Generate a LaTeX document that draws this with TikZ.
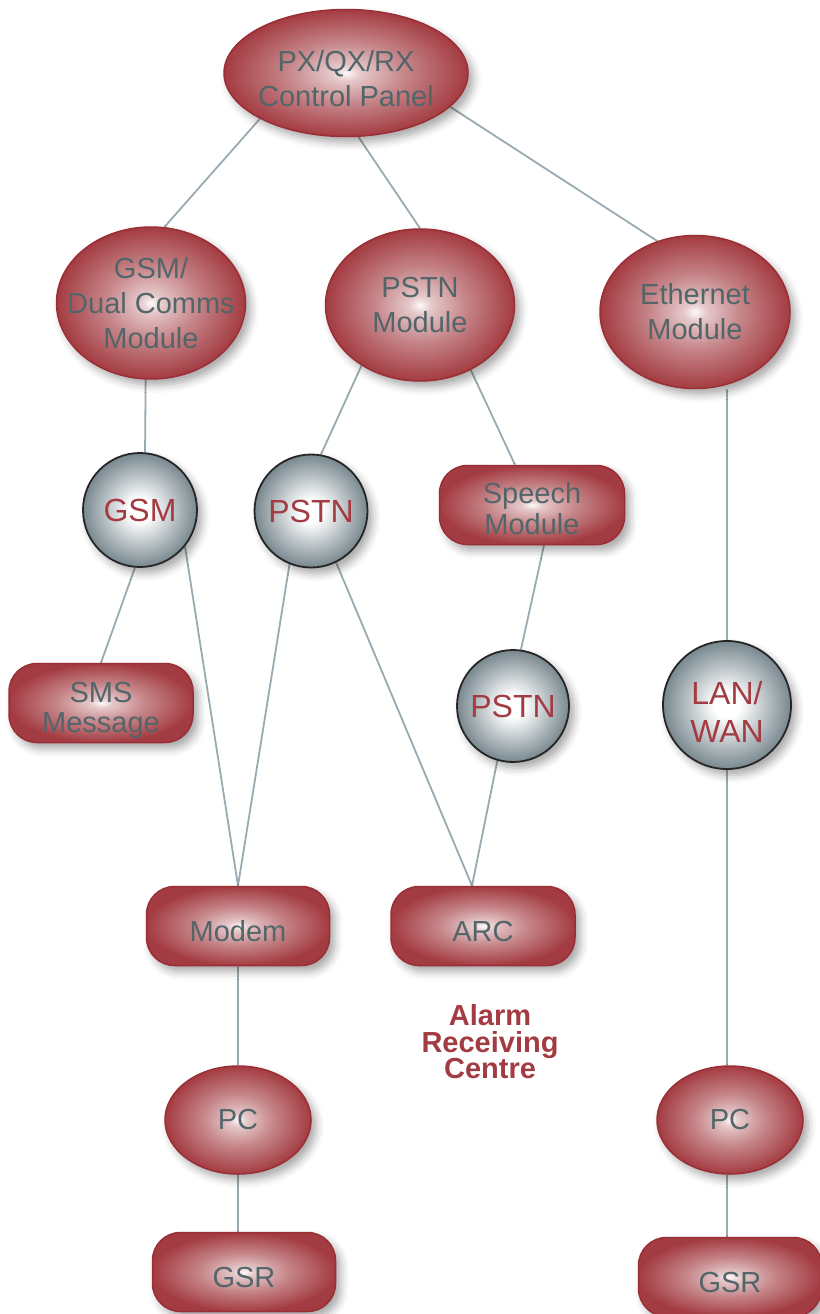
\documentclass[tikz,border=0pt]{standalone}
\usepackage{fontspec}
\setmainfont{Liberation Sans}
\usetikzlibrary{shapes.geometric,calc,backgrounds,shadows.blur}

\definecolor{nodered}{RGB}{163,60,66}
\definecolor{edgered}{RGB}{155,46,53}
\definecolor{ballgrey}{RGB}{120,136,143}
\definecolor{textgrey}{RGB}{82,102,106}
\definecolor{linkgrey}{RGB}{154,170,178}
\colorlet{redcore}{white!97!nodered}
\colorlet{redpink}{nodered!28!white}
\colorlet{redmid}{nodered!62!white}

\pgfdeclareradialshading{redglow}{\pgfpoint{0bp}{0bp}}{color(0bp)=(redcore); color(3bp)=(redpink); color(12bp)=(redmid); color(25bp)=(nodered); color(50bp)=(nodered)}
\pgfdeclareradialshading{greyglow}{\pgfpoint{0bp}{0bp}}{color(0bp)=(white); color(5bp)=(white); color(25bp)=(ballgrey); color(50bp)=(ballgrey)}

\tikzset{
  softshadow/.style={blur shadow={shadow xshift=5pt, shadow yshift=-6pt, shadow blur radius=8pt, shadow opacity=35}},
  txt/.style={font=\fontsize{29}{35}\selectfont, align=center, text=textgrey, inner sep=0pt},
  redell/.style={ellipse, draw=edgered, line width=1.5pt, shading=redglow, inner sep=0pt, softshadow},
  redbox/.style={rectangle, rounded corners=28pt, draw=edgered, line width=1.5pt, shading=redglow,
    minimum width=184, minimum height=79, txt, font=\fontsize{29}{31}\selectfont, softshadow},
  ball/.style={circle, draw=black!85, line width=1.8pt, shading=greyglow, inner sep=0pt,
    txt, text=nodered, font=\fontsize{32}{38}\selectfont, softshadow},
  link/.style={draw=linkgrey, line width=1.8pt},
}

\begin{document}
\begin{tikzpicture}[x=1pt, y=-1pt]
  \useasboundingbox (0,0) rectangle (819,1314);

  % top level
  \node[redell, minimum width=244, minimum height=127] (cp) at (346,73) {};
  \node[txt] (cp-text) at (346,79) {PX/QX/RX\\Control Panel};

  % modules
  \node[redell, minimum width=189, minimum height=152] (gsmdual) at (151,303) {};
  \node[txt] (gsmdual-text) at (gsmdual) {GSM/\\Dual Comms\\Module};
  \node[redell, minimum width=189, minimum height=152] (pstnmod) at (420,305) {};
  \node[txt] (pstnmod-text) at (pstnmod) {PSTN\\Module};
  \node[redell, minimum width=190, minimum height=153] (eth) at (695,312) {};
  \node[txt] (eth-text) at (eth) {Ethernet\\Module};

  % networks
  \node[ball, minimum size=114] (gsm) at (140,510) {GSM};
  \node[ball, minimum size=113] (pstna) at (311,511) {PSTN};
  \node[redbox, minimum width=185, text height=60pt] (speech) at (532,505) {Speech\\Module};
  \node[ball, minimum size=112] (pstnb) at (513,706) {PSTN};
  \node[ball, minimum size=128, text height=75pt] (lan) at (727,705) {LAN/\\WAN};
  \node[redbox, text height=66pt] (sms) at (101,703) {SMS\\Message};

  % receivers
  \node[redbox, minimum width=183, text height=31pt] (modem) at (238,926) {Modem};
  \node[redbox, text height=31pt] (arc) at (483,926) {ARC};
  \node[txt, text=nodered, font=\fontsize{29}{26.5}\selectfont\bfseries] (arc-text) at (490,1042) {Alarm\\Receiving\\Centre};
  \node[redell, minimum width=146, minimum height=108] (pcl) at (238,1120) {};
  \node[txt] (pcl-text) at (pcl) {PC};
  \node[redell, minimum width=146, minimum height=108] (pcr) at (730,1120) {};
  \node[txt] (pcr-text) at (pcr) {PC};
  \node[redbox, minimum width=183, text height=31pt] (gsrl) at (244,1272) {GSR};
  \node[redbox, minimum width=183, text height=31pt] (gsrr) at (730,1277) {GSR};

  \begin{pgfonlayer}{background}
    \path[link]
      (cp.208) -- (gsmdual.80)
      (cp.-79) -- (pstnmod.north)
      (cp.-18) -- (eth.118)
      (gsmdual.-94) -- (gsm.85)
      (pstnmod.226) -- (pstna.80)
      (pstnmod.-52) -- ($(speech.north)+(-17,0)$)
      (eth.south -| lan.north) -- (lan.north)
      (gsm.-95) -- (sms.north)
      (gsm.-39) -- (modem.north)
      (pstna.-112) -- (modem.north)
      (pstna.-64) -- ($(arc.north)+(-11,0)$)
      ($(speech.south)+(12,0)$) -- (pstnb.82)
      (pstnb.-106) -- ($(arc.north)+(-11,0)$)
      (lan.south) -- (lan.south |- pcr.north)
      (modem.south) -- (pcl.north)
      (pcl.south) -- (pcl.south |- gsrl.north)
      ($(pcr.south)+(-3,0)$) -- ($(pcr.south |- gsrr.north)+(-3,0)$);
  \end{pgfonlayer}
\end{tikzpicture}
\end{document}
